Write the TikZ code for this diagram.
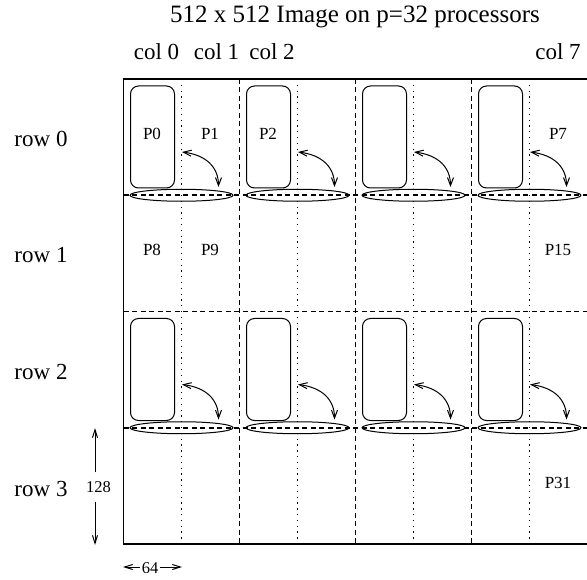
\documentclass[tikz,border=0pt]{standalone}
\usepackage{fontspec}
\setmainfont{Liberation Serif}
\usetikzlibrary{arrows.meta,shapes.geometric}
\begin{document}
\begin{tikzpicture}[x=1pt,y=-1pt,
  griddash/.style={line width=1.5pt, dash pattern=on 5pt off 3.5pt},
  griddot/.style={line width=1.4pt, dash pattern=on 1.3pt off 4.5pt},
  blk/.style={draw, rounded corners=8pt, line width=1pt, minimum width=44pt, minimum height=102pt, inner sep=0pt},
  ell/.style={draw, ellipse, line width=1pt, minimum width=103pt, minimum height=12pt, inner sep=0pt},
  barrow/.style={line width=1pt, {Straight Barb[length=8pt,width=6pt]}-{Straight Barb[length=8pt,width=6pt]}},
  dimarrow/.style={line width=1pt, -{Straight Barb[length=8pt,width=5pt]}},
  title/.style={font=\fontsize{25}{25}\selectfont},
  lab/.style={font=\fontsize{23}{23}\selectfont, inner sep=0pt},
  plab/.style={font=\fontsize{17}{17}\selectfont, inner sep=0pt},
  dlab/.style={font=\fontsize{16.5}{16.5}\selectfont}
]
\useasboundingbox (0,0) rectangle (587,580);

% grid
\foreach \i in {1,3,5,7} \draw[griddot] (123.5+58*\i,79) -- (123.5+58*\i,544);
\foreach \i in {2,4,6} \draw[griddash] (123.5+58*\i,79) -- (123.5+58*\i,544);
\foreach \j in {1,2,3} \draw[griddash] (123.5,79+116.25*\j) -- (588,79+116.25*\j);
\draw[line width=1.9pt] (123.5,79) rectangle (588,544);

% blocks, ellipses, curved arrows
\foreach \k in {0,1,2,3} {
  \foreach \r in {0,2} {
    \pgfmathsetmacro\xo{123.5+116*\k}
    \pgfmathsetmacro\yt{79+116.25*\r}
    \node[blk] (b\k\r) at (\xo+29, \yt+58) {};
    \node[ell] (e\k\r) at (\xo+58, \yt+116.25) {};
    \coordinate (s\k\r) at (\xo+58.5, \yt+73);
    \coordinate (t\k\r) at (\xo+95, \yt+108);
    \draw[barrow] (s\k\r) .. controls +(24,3) and +(0,-20) .. (t\k\r);
  }
}

% title and labels
\node[title] (ttl) at (355,17) {512 x 512 Image on p=32 processors};
\node[lab] (c0) at (156.5,52) {col 0};
\node[lab] (c1) at (216.5,52) {col 1};
\node[lab] (c2) at (272,52) {col 2};
\node[lab] (c7) at (558,52) {col 7};
\node[lab] (r0) at (41,139) {row 0};
\node[lab] (r1) at (41,255) {row 1};
\node[lab] (r2) at (41,372) {row 2};
\node[lab] (r3) at (41,489) {row 3};

\node[plab] (p0) at (152,134) {P0};
\node[plab] (p1) at (210,134) {P1};
\node[plab] (p2) at (268,134) {P2};
\node[plab] (p7) at (558,134) {P7};
\node[plab] (p8) at (152,250) {P8};
\node[plab] (p9) at (210,250) {P9};
\node[plab] (p15) at (558,250) {P15};
\node[plab] (p31) at (558,483) {P31};

% dimensions
\coordinate (vt) at (95,428);
\coordinate (vb) at (95,545);
\node[dlab, text height=11pt, text depth=0pt, inner xsep=0pt, inner ysep=9pt] (n128) at (98.5,487) {128};
\draw[dimarrow] (n128.north -| vt) -- (vt);
\draw[dimarrow] (n128.south -| vb) -- (vb);

\coordinate (hl) at (123,567);
\coordinate (hr) at (182,567);
\node[dlab, inner xsep=2pt, inner ysep=0pt] (n64) at (150,568) {64};
\draw[dimarrow] (n64.west |- hl) -- (hl);
\draw[dimarrow] (n64.east |- hr) -- (hr);
\end{tikzpicture}
\end{document}
